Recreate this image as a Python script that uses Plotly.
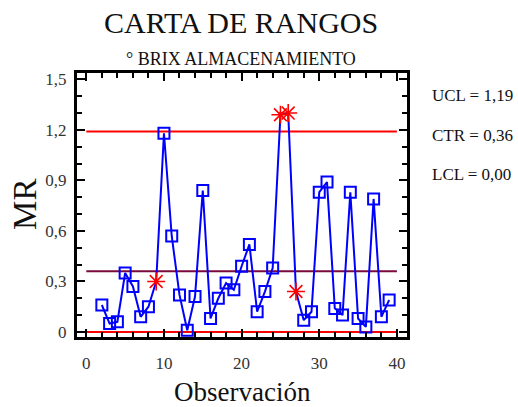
import plotly.graph_objects as go

# Moving ranges of °Brix during storage (observations 2..39)
observations = list(range(2, 40))
mr_values = [0.16, 0.05, 0.06, 0.35, 0.27, 0.09, 0.15, 0.30, 1.18, 0.57,
             0.22, 0.01, 0.21, 0.84, 0.08, 0.20, 0.29, 0.25, 0.39, 0.52,
             0.12, 0.24, 0.38, 1.29, 1.30, 0.24, 0.07, 0.12, 0.83, 0.89,
             0.14, 0.10, 0.83, 0.08, 0.03, 0.79, 0.09, 0.19]
flagged = [9, 25, 26, 27]  # observations marked out of control

UCL = 1.19
CTR = 0.36
LCL = 0.00
limit_span = [0, 40]

x_ticks = [0, 10, 20, 30, 40]
y_ticks = [0, 0.3, 0.6, 0.9, 1.2, 1.5]

FONT = "Liberation Serif"
W, H = 518, 407
L, R, T, B = 77, 406.7, 73.3, 336.7


def px(p):
    return (p - L) / (R - L)


def py(p):
    return (B - p) / (B - T)


fig = go.Figure()

# control limits
fig.add_trace(go.Scatter(x=limit_span, y=[UCL, UCL], mode="lines",
                         line=dict(color="#ff0000", width=2), hoverinfo="skip"))
fig.add_trace(go.Scatter(x=limit_span, y=[LCL, LCL], mode="lines",
                         line=dict(color="#ff0000", width=2), hoverinfo="skip"))
fig.add_trace(go.Scatter(x=limit_span, y=[CTR, CTR], mode="lines",
                         line=dict(color="#7a0a3c", width=2), hoverinfo="skip"))

# moving-range line with square markers
normal_x = [o for o in observations if o not in flagged]
normal_y = [v for o, v in zip(observations, mr_values) if o not in flagged]
flag_x = [o for o in observations if o in flagged]
flag_y = [v for o, v in zip(observations, mr_values) if o in flagged]

fig.add_trace(go.Scatter(x=observations, y=mr_values, mode="lines",
                         line=dict(color="#0000ff", width=2)))
fig.add_trace(go.Scatter(x=normal_x, y=normal_y, mode="markers",
                         marker=dict(symbol="square-open", size=11, color="#0000ff",
                                     line=dict(color="#0000ff", width=2))))
fig.add_trace(go.Scatter(x=flag_x, y=flag_y, mode="markers",
                         marker=dict(symbol="asterisk-open", size=15, color="#ff0000",
                                     line=dict(color="#ff0000", width=1.6))))

axis_common = dict(showgrid=False, zeroline=False, showline=True, linecolor="black",
                   linewidth=3, mirror="allticks", ticks="inside", tickcolor="black",
                   tickwidth=2, ticklen=8,
                   tickfont=dict(family=FONT, size=17, color="#333333"))

fig.update_xaxes(range=[-1.2, 41.3], tickvals=x_ticks,
                 minor=dict(dtick=2, tick0=0, ticks="inside", ticklen=5, tickwidth=2,
                            tickcolor="black", showgrid=False),
                 ticklabelstandoff=9, **axis_common)
fig.update_yaxes(range=[-0.03, 1.538], tickvals=y_ticks,
                 minor=dict(dtick=0.1, tick0=0, ticks="inside", ticklen=5, tickwidth=2,
                            tickcolor="black", showgrid=False),
                 ticklabelstandoff=4, **axis_common)

annotations = [
    dict(text="CARTA DE RANGOS", x=px(241), y=py(23), size=30, color="#111111"),
    dict(text="° BRIX ALMACENAMIENTO", x=px(241), y=py(59.5), size=18, color="#111111"),
    dict(text="Observación", x=px(242), y=py(392), size=27, color="#111111"),
    dict(text="UCL = %s" % f"{UCL:.2f}".replace(".", ","), x=px(430), y=py(96),
         size=17, color="#111111", xanchor="left"),
    dict(text="CTR = %s" % f"{CTR:.2f}".replace(".", ","), x=px(430), y=py(136),
         size=17, color="#111111", xanchor="left"),
    dict(text="LCL = %s" % f"{LCL:.2f}".replace(".", ","), x=px(430), y=py(175),
         size=17, color="#111111", xanchor="left"),
]
for a in annotations:
    fig.add_annotation(text=a["text"], x=a["x"], y=a["y"], xref="paper", yref="paper",
                       xanchor=a.get("xanchor", "center"), yanchor="middle",
                       showarrow=False,
                       font=dict(family=FONT, size=a["size"], color=a["color"]))

fig.add_annotation(text="MR", x=px(25), y=py(204), xref="paper", yref="paper",
                   xanchor="center", yanchor="middle", textangle=-90, showarrow=False,
                   font=dict(family=FONT, size=33, color="#111111"))

fig.update_layout(width=W, height=H, showlegend=False,
                  margin=dict(l=L, r=W - R, t=T, b=H - B, pad=0),
                  paper_bgcolor="white", plot_bgcolor="white",
                  separators=",.")

fig.write_html("out.html")
